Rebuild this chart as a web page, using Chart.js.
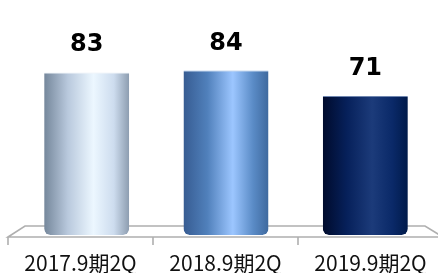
<!DOCTYPE html>
<html>
<head>
<meta charset="utf-8">
<script src="https://cdn.jsdelivr.net/npm/chart.js@4.4.1/dist/chart.umd.min.js"></script>
<style>
  html, body { margin: 0; padding: 0; background: #fff; }
  #wrap { width: 438px; height: 273px; }
</style>
</head>
<body>
<div id="wrap"><canvas id="chart"></canvas></div>
<script>
// data
const categories = ['2017.9期2Q', '2018.9期2Q', '2019.9期2Q'];
const values     = [83, 84, 71];

// cylinder shading, left edge -> highlight -> right edge
const barStops = [
    ['#75879b', '#b9c9dd', '#ecf7ff', '#cddcee', '#8d9db0'],
    ['#375c92', '#5080bb', '#9cc6ff', '#5a8bc6', '#3e699e'],
    ['#000b2c', '#06205a', '#1c3b7a', '#0a2968', '#001a4a']
];
const stopPos = [0, 0.28, 0.58, 0.82, 1];
const topEdge = ['#e6eef6', '#8fb3e0', '#6f86b0'];

const floorColor = '#afafaf';

function barGradient(ctx) {
    const chart = ctx.chart;
    const area  = chart.chartArea;
    const i     = ctx.dataIndex;
    if (!area) return barStops[i][2];
    const xs   = chart.scales.x;
    const cx   = xs.getPixelForValue(i);
    const half = (xs.width / categories.length) * 0.61 / 2;
    const g = chart.ctx.createLinearGradient(cx - half, 0, cx + half, 0);
    barStops[i].forEach((c, k) => g.addColorStop(stopPos[k], c));
    return g;
}

// 3D-ish floor, ticks and category labels on the front edge
const floorPlugin = {
    id: 'floor',
    beforeDatasetsDraw(chart) {
        const { ctx, chartArea: a } = chart;
        const fl = a.left - 9, fr = a.right + 8, fy = a.bottom + 2;
        const bl = a.left + 8, br = a.right - 10, by = a.bottom - 9;
        ctx.save();
        ctx.beginPath();
        ctx.moveTo(fl, fy);
        ctx.lineTo(bl, by);
        ctx.lineTo(br, by);
        ctx.lineTo(fr, fy);
        ctx.closePath();
        ctx.fillStyle = '#ffffff';
        ctx.fill();
        ctx.strokeStyle = floorColor;
        ctx.lineWidth = 1.6;
        ctx.stroke();

        const step = (fr - fl) / categories.length;
        ctx.beginPath();
        for (let i = 0; i <= categories.length; i++) {
            const x = Math.round(fl + i * step);
            ctx.moveTo(x, fy);
            ctx.lineTo(x, fy + 8);
        }
        ctx.stroke();

        ctx.fillStyle = '#111';
        ctx.font = '21px "Liberation Sans Narrow", "Noto Sans CJK JP", sans-serif';
        ctx.textAlign = 'center';
        ctx.textBaseline = 'alphabetic';
        categories.forEach((c, i) => {
            ctx.fillText(c, fl + (i + 0.5) * step, a.bottom + 36);
        });
        ctx.restore();
    },
    afterDatasetsDraw(chart) {
        const { ctx } = chart;
        const meta = chart.getDatasetMeta(0);
        ctx.save();
        ctx.fillStyle = '#000';
        ctx.font = 'bold 24px "DejaVu Sans", Verdana, sans-serif';
        ctx.textAlign = 'center';
        ctx.textBaseline = 'alphabetic';
        meta.data.forEach((bar, i) => {
            ctx.fillText(String(values[i]), bar.x, bar.y - 21);
        });
        ctx.restore();
    }
};

new Chart(document.getElementById('chart').getContext('2d'), {
    type: 'bar',
    data: {
        labels: categories,
        datasets: [{
            data: values,
            backgroundColor: barGradient,
            borderColor: topEdge,
            borderWidth: { top: 1, left: 0, right: 0, bottom: 0 },
            borderSkipped: false,
            borderRadius: { topLeft: 0, topRight: 0, bottomLeft: 6, bottomRight: 6 },
            barPercentage: 0.61,
            categoryPercentage: 1
        }]
    },
    options: {
        responsive: true,
        maintainAspectRatio: false,
        animation: false,
        layout: { padding: { left: 17, right: 3, top: 0, bottom: 38 } },
        plugins: {
            legend: { display: false },
            tooltip: { enabled: false }
        },
        scales: {
            x: { display: false },
            y: { display: false, min: 0, max: 120 }
        }
    },
    plugins: [floorPlugin]
});
</script>
</body>
</html>
